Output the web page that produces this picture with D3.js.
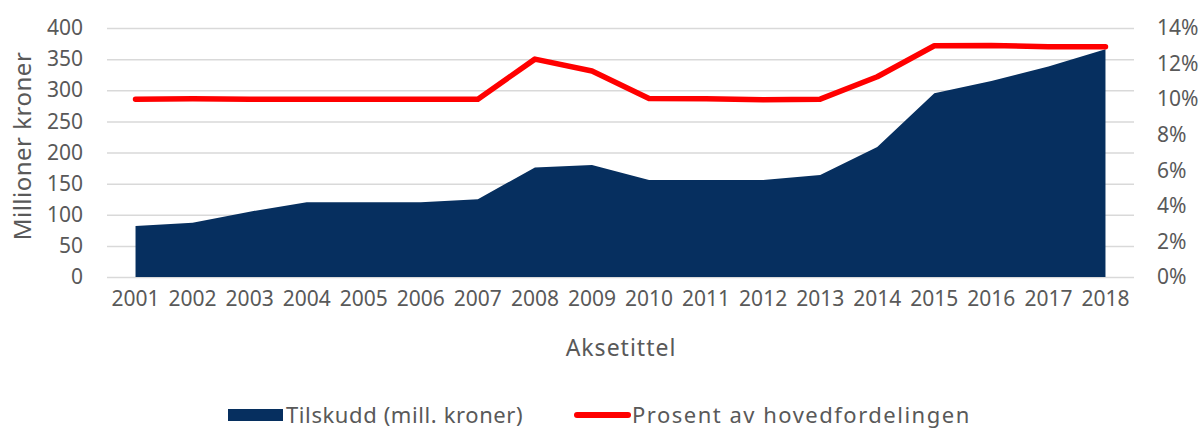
<!DOCTYPE html>
<html>
<head>
<meta charset="utf-8">
<script src="https://cdn.jsdelivr.net/npm/d3@7"></script>
<style>
  body { margin: 0; background: #fff; }
  svg text { font-family: "Noto Sans", sans-serif; fill: #595959; }
</style>
</head>
<body>
<div id="chart"></div>
<script>
const years = ['2001','2002','2003','2004','2005','2006','2007','2008','2009','2010','2011','2012','2013','2014','2015','2016','2017','2018'];
const tilskudd = [82, 87, 105, 120, 120, 120, 125, 176, 180, 156, 156, 156, 164, 209, 295, 315, 338, 366];
const prosent = [10.0, 10.02, 10.0, 10.0, 10.0, 10.0, 10.0, 12.25, 11.58, 10.04, 10.02, 9.97, 10.0, 11.26, 13.0, 13.02, 12.95, 12.95];
const leftTicks = [0, 50, 100, 150, 200, 250, 300, 350, 400];
const rightTicks = [0, 2, 4, 6, 8, 10, 12, 14];

const width = 1203;
const height = 428;
const plot = { left: 107, right: 1134, top: 28, bottom: 277 };

const svg = d3.select('#chart')
    .append('svg')
    .attr('width', width)
    .attr('height', height);

const xScale = d3.scaleBand().domain(years).range([plot.left, plot.right]);
const xPos = (d) => xScale(d) + xScale.bandwidth() / 2;
const yLeft = d3.scaleLinear().domain([0, 400]).range([plot.bottom, plot.top]);
const yRight = d3.scaleLinear().domain([0, 14]).range([plot.bottom, plot.top]);

// gridlines
svg.append('g')
    .attr('transform', `translate(${plot.left}, 0)`)
    .call(d3.axisLeft(yLeft).tickValues(leftTicks).tickFormat('').tickSize(-(plot.right - plot.left)))
    .call((g) => g.select('.domain').remove())
    .call((g) => g.selectAll('line').attr('stroke', '#d9d9d9').attr('stroke-width', 1.5));

// area
const area = d3.area()
    .x((d, i) => xPos(years[i]))
    .y0(yLeft(0))
    .y1((d) => yLeft(d));

svg.append('path')
    .datum(tilskudd)
    .attr('d', area)
    .attr('fill', '#062f5f');

// red line
const line = d3.line()
    .x((d, i) => xPos(years[i]))
    .y((d) => yRight(d));

svg.append('path')
    .datum(prosent)
    .attr('d', line)
    .attr('fill', 'none')
    .attr('stroke', '#ff0000')
    .attr('stroke-width', 5.5)
    .attr('stroke-linejoin', 'round')
    .attr('stroke-linecap', 'round');

// left axis
const gl = svg.append('g')
    .attr('transform', `translate(${plot.left}, 0)`)
    .call(d3.axisLeft(yLeft).tickValues(leftTicks).tickSize(0).tickPadding(24));
gl.select('.domain').remove();
gl.selectAll('text').style('font-size', '21px');

// right axis
const gr = svg.append('g')
    .attr('transform', `translate(${plot.right}, 0)`)
    .call(d3.axisRight(yRight).tickValues(rightTicks).tickSize(0).tickPadding(23).tickFormat((d) => d + '%'));
gr.select('.domain').remove();
gr.selectAll('text').style('font-size', '21px');

// x axis
const gx = svg.append('g')
    .attr('transform', `translate(0, ${plot.bottom})`)
    .call(d3.axisBottom(xScale).tickSize(0).tickPadding(14));
gx.select('.domain').remove();
gx.selectAll('text').style('font-size', '21px');

// axis titles
svg.append('text')
    .attr('transform', `translate(31, 146) rotate(-90)`)
    .attr('text-anchor', 'middle')
    .style('font-size', '24px')
    .style('letter-spacing', '0.5px')
    .text('Millioner kroner');

svg.append('text')
    .attr('x', 621)
    .attr('y', 356)
    .attr('text-anchor', 'middle')
    .style('font-size', '23px')
    .style('letter-spacing', '1px')
    .text('Aksetittel');

// legend
const legend = svg.append('g').attr('transform', 'translate(0, 415)');
legend.append('rect')
    .attr('x', 228).attr('y', -6).attr('width', 55).attr('height', 12)
    .attr('fill', '#062f5f');
legend.append('text')
    .attr('x', 286).attr('y', 8)
    .style('font-size', '22px')
    .style('letter-spacing', '0.6px')
    .text('Tilskudd (mill. kroner)');
legend.append('line')
    .attr('x1', 577).attr('x2', 628).attr('y1', 0).attr('y2', 0)
    .attr('stroke', '#ff0000').attr('stroke-width', 6).attr('stroke-linecap', 'round');
legend.append('text')
    .attr('x', 632).attr('y', 8)
    .style('font-size', '22px')
    .style('letter-spacing', '1.5px')
    .text('Prosent av hovedfordelingen');
</script>
</body>
</html>
